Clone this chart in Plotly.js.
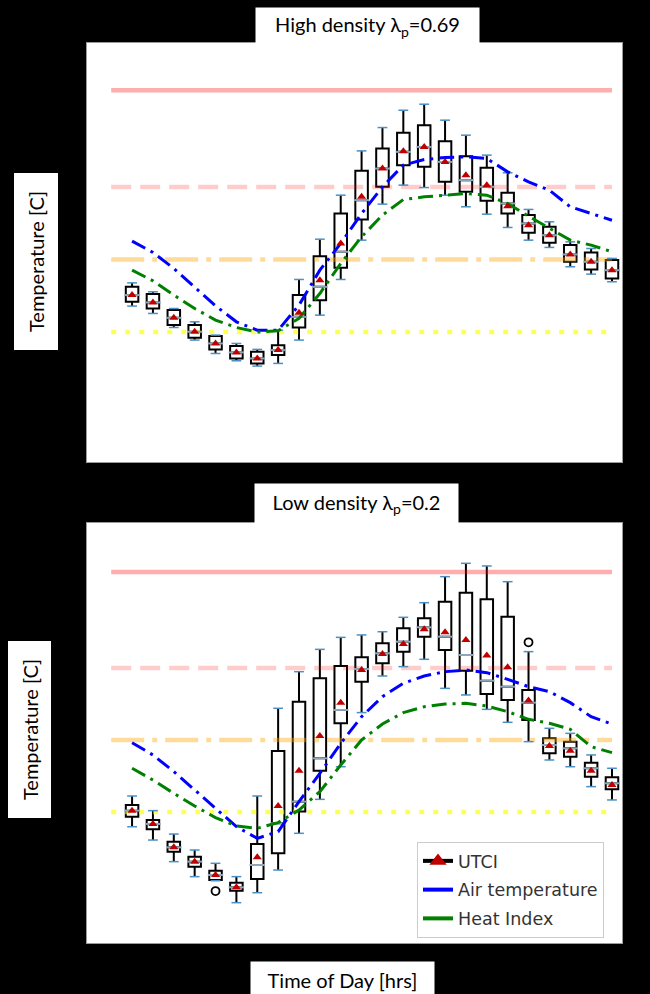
<!DOCTYPE html>
<html>
<head>
<meta charset="utf-8">
<script src="https://cdn.plot.ly/plotly-3.0.1.min.js"></script>
<style>html,body{margin:0;padding:0;background:#000;}#chart{width:650px;height:994px;}</style>
</head>
<body>
<div id="chart"></div>
<script>
// ---------- DATA ----------
const hours = [0,1,2,3,4,5,6,7,8,9,10,11,12,13,14,15,16,17,18,19,20,21,22,23];

// UTCI stress thresholds (extreme, very strong, strong, moderate)
const thresholdLevels = [46, 38, 32, 26];
const thresholdSpan = [-1, 23];

// High density panel
const hiLow   = [28.15,27.54,26.38,25.34,24.23,23.63,23.19,23.41,25.34,27.40,30.35,33.60,36.58,38.15,37.95,37.32,36.36,35.75,34.65,33.60,33.00,31.40,30.79,30.16];
const hiQ1    = [28.50,27.95,26.58,25.53,24.57,23.82,23.41,24.10,26.38,28.64,31.31,35.31,38.01,39.80,39.66,38.42,37.60,36.85,35.80,34.21,33.38,31.81,31.18,30.43];
const hiMed   = [29.06,28.45,27.18,26.03,25.06,24.32,23.82,24.51,27.26,29.74,32.64,36.91,39.52,40.90,41.31,40.07,38.56,38.01,36.63,34.98,34.01,32.42,31.81,31.12];
const hiQ3    = [29.74,29.14,27.82,26.58,25.67,24.84,24.37,24.92,29.06,32.28,35.80,39.33,41.18,42.47,43.10,41.78,40.54,39.58,37.51,35.67,34.70,33.19,32.58,31.95];
const hiHigh  = [30.07,29.33,27.95,26.85,25.75,25.06,24.57,26.16,30.35,33.68,37.32,40.98,42.91,44.34,44.84,43.52,42.28,40.63,39.17,36.14,35.12,33.46,32.91,32.09];
const hiMean  = [29.06,28.45,27.18,26.03,25.06,24.32,23.82,24.51,27.60,30.29,33.33,37.18,39.52,40.96,41.31,40.07,38.97,38.15,36.41,34.84,34.01,32.42,31.81,31.12];
const hiAir   = [33.52,32.58,31.26,29.74,28.17,26.85,26.16,26.16,28.23,31.12,33.33,35.80,38.01,39.80,40.27,40.43,40.49,40.35,39.25,38.42,37.73,36.36,35.80,35.25];
const hiHeat  = [31.12,30.24,29.06,27.95,26.99,26.38,26.00,26.11,27.13,29.19,31.67,33.88,35.67,36.96,37.18,37.32,37.46,37.32,36.63,35.58,34.62,33.60,33.19,32.64];

// Low density panel
const loLow   = [24.77,23.66,21.86,20.61,20.27,18.44,19.27,21.16,24.22,27.05,29.77,34.28,37.33,38.11,38.72,36.30,35.75,34.55,33.47,31.86,30.33,29.77,28.11,27.00];
const loQ1    = [25.61,24.55,22.69,21.44,20.33,19.44,20.41,22.55,26.03,29.44,33.39,36.86,38.39,39.36,40.61,39.50,37.77,35.83,35.33,33.66,30.89,30.61,28.94,27.89];
const loMed   = [26.11,25.00,23.05,21.86,20.75,19.72,21.58,25.05,26.86,30.47,34.50,37.91,39.22,40.19,41.39,40.61,39.08,36.94,36.44,35.11,31.58,31.30,29.64,28.39];
const loQ3    = [26.58,25.33,23.52,22.27,21.11,20.11,23.33,31.08,35.19,37.14,38.16,38.89,40.05,41.30,42.14,43.52,44.27,43.72,42.27,36.16,32.14,31.86,30.11,28.89];
const loHigh  = [27.33,26.11,24.16,22.83,21.72,20.61,27.33,34.64,37.69,39.55,40.55,40.75,41.02,42.22,43.44,45.61,46.72,46.50,45.19,39.36,32.97,32.55,30.75,29.64];
const loMean  = [26.11,25.00,23.05,21.86,20.75,19.72,22.22,26.50,29.44,32.33,35.11,37.83,39.16,40.00,41.22,40.97,40.33,39.03,38.05,35.28,31.50,31.11,29.44,28.25];
const loOutX  = [4, 19];
const loOutY  = [19.41, 40.14];
const loAir   = [31.77,30.75,29.36,27.83,26.30,24.78,23.80,24.36,26.86,29.22,31.72,33.94,35.61,36.72,37.33,37.69,37.83,37.61,37.05,36.44,36.03,35.11,33.94,33.33];
const loHeat  = [29.64,28.66,27.55,26.50,25.53,24.83,24.64,25.11,26.16,27.69,29.91,32.00,33.33,34.28,34.77,35.00,35.05,34.83,34.36,33.72,33.39,32.89,31.44,30.94];

const legendNames = ['UTCI', 'Air temperature', 'Heat Index'];

// ---------- STYLES ----------
const thrStyles = [
  {color:'rgba(255,0,0,0.32)', dash:'solid', width:4.5},
  {color:'rgba(255,0,0,0.2)', dash:'20px,9px', width:4.5},
  {color:'rgba(255,165,0,0.4)', dash:'33px,8px,5px,8px', width:4.5},
  {color:'rgba(255,255,0,0.65)', dash:'5px,9px', width:4.5}
];
const AIR_COLOR = '#0000ff';
const HEAT_COLOR = '#008000';
const LINE_DASH = '15px,6px,3px,6px';

function panel(xa, ya, low, q1, med, q3, high, mean, air, heat, outX, outY) {
  const t = [];
  thresholdLevels.forEach((lv, k) => {
    t.push({type:'scatter', mode:'lines', x:thresholdSpan, y:[lv, lv], xaxis:xa, yaxis:ya,
      line:thrStyles[k], showlegend:false, hoverinfo:'skip'});
  });
  t.push({type:'box', x:hours, q1:q1, median:med, q3:q3, lowerfence:low, upperfence:high,
    xaxis:xa, yaxis:ya, width:0.6, whiskerwidth:0, boxpoints:false,
    line:{color:'#000', width:2}, fillcolor:'rgba(0,0,0,0)', showlegend:false});
  t.push({type:'scatter', mode:'markers', x:hours.concat(hours), y:low.concat(high), xaxis:xa, yaxis:ya,
    marker:{symbol:'line-ew', size:7, line:{color:'#4a90c4', width:1.5}}, showlegend:false, hoverinfo:'skip'});
  t.push({type:'scatter', mode:'markers', x:hours, y:med, xaxis:xa, yaxis:ya,
    marker:{symbol:'line-ew', size:11, line:{color:'#8fa6b8', width:2}}, showlegend:false, hoverinfo:'skip'});
  if (outX) {
    t.push({type:'scatter', mode:'markers', x:outX, y:outY, xaxis:xa, yaxis:ya,
      marker:{symbol:'circle-open', size:8, color:'#000', line:{color:'#000', width:1.8}}, showlegend:false});
  }
  t.push({type:'scatter', mode:'lines', x:hours, y:air, xaxis:xa, yaxis:ya, name:legendNames[1],
    line:{color:AIR_COLOR, width:3, dash:LINE_DASH}, showlegend:false});
  t.push({type:'scatter', mode:'lines', x:hours, y:heat, xaxis:xa, yaxis:ya, name:legendNames[2],
    line:{color:HEAT_COLOR, width:3, dash:LINE_DASH}, showlegend:false});
  t.push({type:'scatter', mode:'markers', x:hours, y:mean, xaxis:xa, yaxis:ya,
    marker:{symbol:'triangle-up', size:8, color:'#c00000'}, showlegend:false});
  return t;
}

const traces = [].concat(
  panel('x', 'y', hiLow, hiQ1, hiMed, hiQ3, hiHigh, hiMean, hiAir, hiHeat, null, null),
  panel('x2', 'y2', loLow, loQ1, loMed, loQ3, loHigh, loMean, loAir, loHeat, loOutX, loOutY)
);
// legend entries (legend keys drawn as in the reference: solid thick lines)
traces.push({type:'scatter', mode:'lines+markers', x:[null], y:[null], xaxis:'x2', yaxis:'y2',
  name:legendNames[0], legendgroup:'a',
  line:{color:'#000', width:4}, marker:{symbol:'triangle-up', size:15, color:'#c00000'}});
traces.push({type:'scatter', mode:'lines', x:[null], y:[null], xaxis:'x2', yaxis:'y2',
  name:legendNames[1], legendgroup:'b', line:{color:AIR_COLOR, width:4}});
traces.push({type:'scatter', mode:'lines', x:[null], y:[null], xaxis:'x2', yaxis:'y2',
  name:legendNames[2], legendgroup:'c', line:{color:HEAT_COLOR, width:4}});

const W = 650, H = 994;
const px = v => v / W, py = v => 1 - v / H;

const axBase = {showticklabels:false, ticks:'', showgrid:false, zeroline:false,
  showline:true, mirror:true, linecolor:'#9a9a9a', linewidth:1};

const boxFont = {family:'Lato, "Open Sans", sans-serif', size:20, color:'#000'};

const layout = {
  width:W, height:H,
  paper_bgcolor:'#000', plot_bgcolor:'#fff',
  margin:{l:0, r:0, t:0, b:0},
  showlegend:true,
  xaxis: Object.assign({}, axBase, {domain:[px(87), px(622)], range:[-2.16, 23.48], anchor:'y'}),
  yaxis: Object.assign({}, axBase, {domain:[py(462), py(43)], range:[15.26, 49.9], anchor:'x'}),
  xaxis2: Object.assign({}, axBase, {domain:[px(87), px(622)], range:[-2.16, 23.48], anchor:'y2'}),
  yaxis2: Object.assign({}, axBase, {domain:[py(943), py(523)], range:[15.08, 50.08], anchor:'x2'}),
  legend:{x:px(417), y:py(842), xanchor:'left', yanchor:'top', bgcolor:'#fff',
    bordercolor:'#cccccc', borderwidth:1, traceorder:'grouped', tracegroupgap:3,
    itemwidth:30,
    font:{family:'DejaVu Sans', size:17.5, color:'#333'}},
  annotations:[
    {xref:'paper', yref:'paper', x:px(367.5), y:py(26), xanchor:'center', yanchor:'middle',
     text:'High density λ<sub>p</sub>=0.69', showarrow:false, bgcolor:'#fff', width:221, height:34, font:boxFont},
    {xref:'paper', yref:'paper', x:px(356.5), y:py(503), xanchor:'center', yanchor:'middle',
     text:'Low density λ<sub>p</sub>=0.2', showarrow:false, bgcolor:'#fff', width:201, height:37, font:boxFont},
    {xref:'paper', yref:'paper', x:px(35.5), y:py(262), xanchor:'center', yanchor:'middle', textangle:-90,
     text:'Temperature [C]', showarrow:false, bgcolor:'#fff', width:174, height:41, font:boxFont},
    {xref:'paper', yref:'paper', x:px(29.5), y:py(730), xanchor:'center', yanchor:'middle', textangle:-90,
     text:'Temperature [C]', showarrow:false, bgcolor:'#fff', width:174, height:40, font:boxFont},
    {xref:'paper', yref:'paper', x:px(342.5), y:py(979), xanchor:'center', yanchor:'middle',
     text:'Time of Day [hrs]', showarrow:false, bgcolor:'#fff', width:181, height:33, font:boxFont}
  ]
};

Plotly.newPlot('chart', traces, layout, {displayModeBar:false, staticPlot:true});
</script>
</body>
</html>
